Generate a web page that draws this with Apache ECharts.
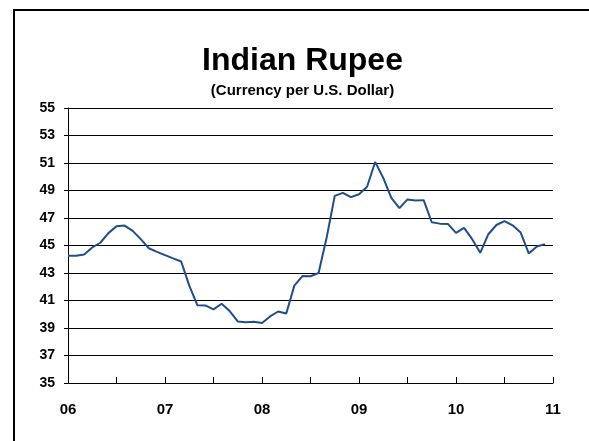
<!DOCTYPE html>
<html>
<head>
<meta charset="utf-8">
<script src="https://cdn.jsdelivr.net/npm/echarts@6/dist/echarts.min.js"></script>
<style>
  html, body { margin: 0; padding: 0; background: #fff; }
  #chart { width: 589px; height: 441px; }
</style>
</head>
<body>
<div id="chart"></div>
<script>
// monthly rupee per dollar, Jan 2006 .. Dec 2010
var rupee = [
  44.25, 44.25, 44.35, 44.86, 45.2, 45.9, 46.4, 46.45, 46.06, 45.46, 44.8, 44.54,
  44.3, 44.06, 43.84, 42.08, 40.66, 40.64, 40.35, 40.76, 40.23, 39.48, 39.41, 39.46,
  39.36, 39.84, 40.2, 40.06, 42.08, 42.78, 42.76, 43.0, 45.58, 48.61, 48.83, 48.52,
  48.73, 49.27, 51.07, 49.92, 48.47, 47.72, 48.35, 48.28, 48.3, 46.69, 46.59, 46.57,
  45.92, 46.28, 45.46, 44.47, 45.82, 46.49, 46.78, 46.47, 45.94, 44.42, 44.93, 45.1
];
var yearLabels = ['06', '07', '08', '09', '10', '11'];

var points = [];
for (var i = 0; i < rupee.length; i++) {
  points.push([i, rupee[i]]);
}

var chart = echarts.init(document.getElementById('chart'));

var option = {
  animation: false,
  backgroundColor: '#fff',
  graphic: [{
    type: 'rect',
    shape: { x: 14, y: 10, width: 700, height: 600 },
    style: { fill: 'none', stroke: '#000', lineWidth: 2 }
  }, {
    type: 'text',
    x: 302.5,
    y: 61.5,
    style: {
      text: 'Indian Rupee',
      align: 'center',
      verticalAlign: 'middle',
      fontFamily: 'Liberation Sans',
      fontSize: 32,
      fontWeight: 'bold',
      fill: '#000'
    }
  }, {
    type: 'text',
    x: 302.5,
    y: 91,
    style: {
      text: '(Currency per U.S. Dollar)',
      align: 'center',
      verticalAlign: 'middle',
      fontFamily: 'Liberation Sans',
      fontSize: 15,
      fontWeight: 'bold',
      fill: '#000'
    }
  }],
  grid: {
    left: 68,
    right: 36,
    top: 108,
    bottom: 58
  },
  xAxis: {
    type: 'value',
    min: 0,
    max: 60,
    interval: 6,
    axisLine: { lineStyle: { color: '#000', width: 1 } },
    axisTick: { inside: true, length: 6, lineStyle: { color: '#000' } },
    splitLine: { show: false },
    axisLabel: {
      margin: 19,
      fontFamily: 'Liberation Sans',
      fontSize: 15,
      fontWeight: 'bold',
      color: '#000',
      formatter: function (v) {
        return v % 12 === 0 ? yearLabels[v / 12] : '';
      }
    }
  },
  yAxis: {
    type: 'value',
    min: 35,
    max: 55,
    interval: 2,
    axisLine: { show: true, lineStyle: { color: '#000', width: 1 } },
    axisTick: { show: true, length: 4, lineStyle: { color: '#000' } },
    splitLine: { lineStyle: { color: '#000', width: 1 } },
    axisLabel: {
      margin: 13,
      fontFamily: 'Liberation Sans',
      fontSize: 14,
      fontWeight: 'bold',
      color: '#000'
    }
  },
  series: [{
    type: 'line',
    data: points,
    showSymbol: false,
    lineStyle: { color: '#1f4e8c', width: 2 },
    itemStyle: { color: '#1f4e8c' }
  }]
};

chart.setOption(option);
</script>
</body>
</html>
